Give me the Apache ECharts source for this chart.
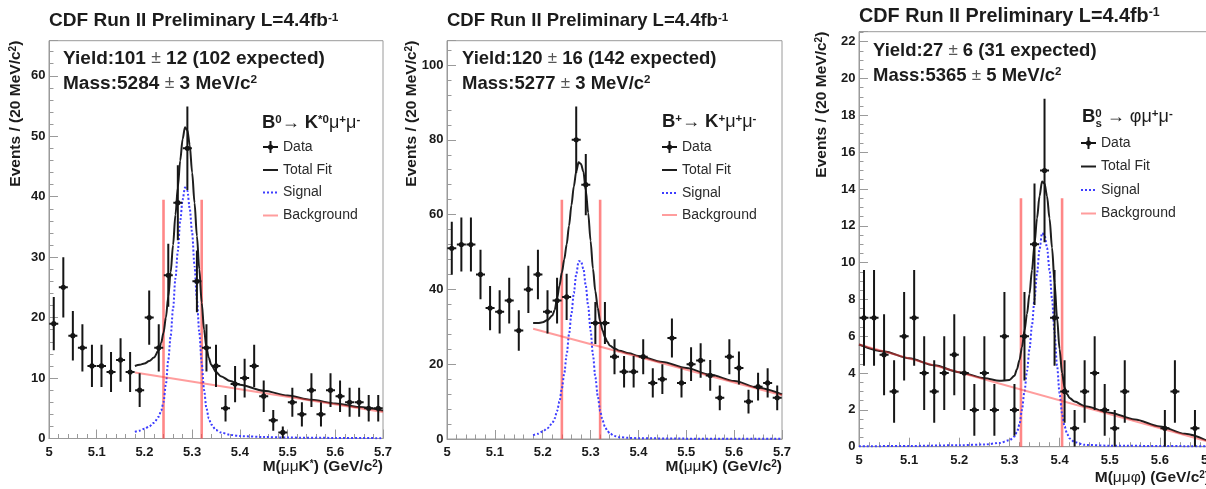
<!DOCTYPE html>
<html><head><meta charset="utf-8">
<script src="https://cdn.jsdelivr.net/npm/echarts@6/dist/echarts.min.js"></script>
<style>html,body{margin:0;padding:0;background:#fff}#c{width:1206px;height:489px}</style>
</head><body><div id="c"></div>
<script>
// ---------- DATA ----------
const binCenters = [5.01,5.03,5.05,5.07,5.09,5.11,5.13,5.15,5.17,5.19,5.21,5.23,5.25,5.27,5.29,5.31,5.33,5.35,5.37,5.39,5.41,5.43,5.45,5.47,5.49,5.51,5.53,5.55,5.57,5.59,5.61,5.63,5.65,5.67,5.69];
const xTicks = [5, 5.1, 5.2, 5.3, 5.4, 5.5, 5.6, 5.7];

// Panel 1: B0 -> K*0 mu mu
const p1Counts = [19,25,17,15,12,12,11,13,11,8,20,15,27,39,48,26,15,12,5,9,10,12,7,3,1,6,4,8,4,8,7,6,6,5,5];
const p1Errors = [4.4,5.0,4.1,3.9,3.5,3.5,3.3,3.6,3.3,2.8,4.5,3.9,5.2,6.2,6.9,5.1,3.9,3.5,2.2,3.0,3.2,3.5,2.6,1.7,1.0,2.4,2.0,2.8,2.0,2.8,2.6,2.4,2.4,2.2,2.2];
const p1Fit = [[5.18,12.0],[5.19,12.2],[5.20,12.4],[5.21,12.8],[5.22,13.4],[5.23,14.6],[5.235,15.8],[5.24,17.5],[5.245,20],[5.25,23.5],[5.255,27.5],[5.26,32],[5.265,37],[5.27,41.5],[5.275,46],[5.28,49.5],[5.285,51.5],[5.29,51],[5.295,48.5],[5.30,44],[5.305,39],[5.31,33.5],[5.315,28],[5.32,22.5],[5.325,18],[5.33,15],[5.335,13.3],[5.34,12.2],[5.35,11],[5.36,10.3],[5.38,9.5],[5.40,8.9],[5.45,7.9],[5.50,7.1],[5.55,6.4],[5.60,5.8],[5.65,5.2],[5.70,4.6]];
const p1Sig = [[5.18,1.1],[5.19,1.3],[5.20,1.6],[5.21,2.0],[5.22,2.6],[5.23,3.6],[5.235,4.6],[5.24,6],[5.245,9],[5.25,13],[5.255,17],[5.26,21.5],[5.265,26.5],[5.27,31],[5.275,36],[5.28,39.5],[5.285,41.5],[5.29,41],[5.295,38],[5.30,34],[5.305,28.5],[5.31,23],[5.315,17.5],[5.32,12.5],[5.325,8],[5.33,5],[5.335,3.3],[5.34,2.3],[5.35,1.4],[5.36,1.0],[5.38,0.6],[5.40,0.4],[5.45,0.25],[5.50,0.15],[5.60,0.1],[5.70,0.05]];
const p1Bkg = [[5.18,10.9],[5.70,4.4]];
const p1Window = [5.24, 5.32];
const p1WindowTop = 39.5;

// Panel 2: B+ -> K+ mu mu
const p2Counts = [51,52,52,44,35,34,37,29,40,44,34,37,38,80,68,31,31,22,18,18,22,15,16,27,15,20,21,17,11,22,19,10,14,15,11];
const p2Errors = [7.1,7.2,7.2,6.6,5.9,5.8,6.1,5.4,6.3,6.6,5.8,6.1,6.2,8.9,8.2,5.6,5.6,4.7,4.2,4.2,4.7,3.9,4.0,5.2,3.9,4.5,4.6,4.1,3.3,4.7,4.4,3.2,3.7,3.9,3.3];
const p2Fit = [[5.18,31.0],[5.19,31.0],[5.20,31.2],[5.21,31.8],[5.22,33],[5.225,34.5],[5.23,37.5],[5.235,41],[5.24,44.5],[5.245,48],[5.25,52],[5.255,57],[5.26,62.5],[5.265,67.5],[5.27,71.5],[5.275,74],[5.28,73.5],[5.285,71.5],[5.29,66.5],[5.295,60.5],[5.30,53],[5.305,45.5],[5.31,39.5],[5.315,35],[5.32,31.5],[5.325,29],[5.33,27.3],[5.335,26],[5.34,25],[5.35,24.2],[5.36,23.6],[5.38,22.9],[5.40,22.2],[5.45,20.6],[5.50,19.0],[5.55,17.2],[5.60,15.5],[5.65,13.7],[5.70,11.9]];
const p2Sig = [[5.18,1.0],[5.19,1.4],[5.20,2.0],[5.21,2.9],[5.22,4.2],[5.225,5.5],[5.23,7.5],[5.235,10],[5.24,13.5],[5.245,17.5],[5.25,22.5],[5.255,28],[5.26,33.5],[5.265,39],[5.27,44],[5.275,47.5],[5.28,47.5],[5.285,45.5],[5.29,41],[5.295,35.5],[5.30,29],[5.305,22.5],[5.31,16.5],[5.315,11.5],[5.32,7.5],[5.325,5],[5.33,3.3],[5.335,2.2],[5.34,1.5],[5.35,0.8],[5.36,0.5],[5.38,0.3],[5.40,0.2],[5.50,0.1],[5.70,0.05]];
const p2Bkg = [[5.18,29.5],[5.70,11.7]];
const p2Window = [5.24, 5.32];
const p2WindowTop = 64;

// Panel 3: Bs -> phi mu mu
const p3Counts = [7,7,5,3,6,7,4,3,4,5,4,2,4,2,6,2,6,11,15,7,3,1,3,4,2,1,3,0,0,0,1,3,0,1,0];
const p3Errors = [2.6,2.6,2.2,1.7,2.4,2.6,2.0,1.7,2.0,2.2,2.0,1.4,2.0,1.4,2.4,1.4,2.4,3.3,3.9,2.6,1.7,1.0,1.7,2.0,1.4,1.0,1.7,0,0,0,1.0,1.7,0,1.0,0];
const p3Fit = [[5.00,5.55],[5.05,5.17],[5.10,4.80],[5.15,4.42],[5.20,4.05],[5.25,3.72],[5.28,3.58],[5.30,3.62],[5.31,3.85],[5.315,4.2],[5.32,4.7],[5.325,5.4],[5.33,6.3],[5.335,7.2],[5.34,8.3],[5.345,9.6],[5.35,11.0],[5.355,12.4],[5.36,13.6],[5.365,14.4],[5.37,14.3],[5.375,13.6],[5.38,12.4],[5.385,10.8],[5.39,8.9],[5.395,7.0],[5.40,5.3],[5.405,4.0],[5.41,3.2],[5.415,2.85],[5.42,2.65],[5.43,2.45],[5.45,2.2],[5.50,1.85],[5.55,1.48],[5.60,1.1],[5.65,0.7],[5.70,0.25]];
const p3Sig = [[5.00,0.02],[5.10,0.04],[5.20,0.08],[5.25,0.12],[5.28,0.2],[5.30,0.35],[5.31,0.55],[5.315,0.8],[5.32,1.2],[5.325,2.0],[5.33,3.0],[5.335,4.1],[5.34,5.3],[5.345,6.6],[5.35,8.0],[5.355,9.4],[5.36,10.7],[5.365,11.6],[5.37,11.5],[5.375,10.8],[5.38,9.6],[5.385,8.0],[5.39,6.2],[5.395,4.4],[5.40,2.9],[5.405,1.8],[5.41,1.1],[5.415,0.7],[5.42,0.45],[5.43,0.25],[5.45,0.1],[5.50,0.05],[5.70,0.02]];
const p3Bkg = [[5.00,5.55],[5.70,0.25]];
const p3Window = [5.323, 5.405];
const p3WindowTop = 13.5;

// ---------- STYLE / LAYOUT ----------
const FONT = '"Liberation Sans", Arial, Helvetica, sans-serif';
const FRAME = '#9a9a9a';
const grids = [
  {left: 49, top: 40.7, width: 334, height: 397.8},
  {left: 447, top: 40.7, width: 335, height: 398.3},
  {left: 859, top: 31.7, width: 351, height: 415}
];
const yRanges = [{max: 65.8, interval: 10, minor: 5}, {max: 106.5, interval: 20, minor: 5}, {max: 22.54, interval: 2, minor: 4}];

const chart = echarts.init(document.getElementById('c'), null, {renderer: 'canvas'});

function xAxisCfg(i) {
  return {
    type: 'value', gridIndex: i, min: xTicks[0], max: xTicks[xTicks.length - 1], interval: 0.1,
    axisLine: {show: true, lineStyle: {color: FRAME, width: 1}},
    axisTick: {show: true, inside: true, length: 9, lineStyle: {color: FRAME}},
    minorTick: {show: true, splitNumber: 5, length: 4.5, lineStyle: {color: FRAME}},
    splitLine: {show: false},
    axisLabel: {color: '#1a1a1a', fontSize: 13, fontWeight: 'bold', fontFamily: FONT, margin: 7,
      formatter: v => String(+(+v).toFixed(2)), showMaxLabel: true, hideOverlap: false}
  };
}
function yAxisCfg(i) {
  const r = yRanges[i];
  return {
    type: 'value', gridIndex: i, min: 0, max: r.max, interval: r.interval,
    axisLine: {show: true, lineStyle: {color: FRAME, width: 1}},
    axisTick: {show: true, inside: true, length: 9, lineStyle: {color: FRAME}},
    minorTick: {show: true, splitNumber: r.minor, length: 4.5, lineStyle: {color: FRAME}},
    splitLine: {show: false},
    axisLabel: {color: '#1a1a1a', fontSize: 13, fontWeight: 'bold', fontFamily: FONT, margin: 3.5,
      showMaxLabel: false, formatter: v => String(+(+v).toFixed(2))}
  };
}

function pointsSeries(i, counts, errs) {
  const data = [];
  binCenters.forEach((x, k) => { if (counts[k] > 0) data.push([x, counts[k], errs[k]]); });
  return {
    type: 'custom', xAxisIndex: i, yAxisIndex: i, data, z: 6, clip: true,
    renderItem(params, api) {
      const x = api.value(0), y = api.value(1), e = api.value(2);
      const c = api.coord([x, y]);
      const lo = api.coord([x, Math.max(0, y - e)]);
      const hi = api.coord([x, y + e]);
      const st = {stroke: '#151515', lineWidth: 2};
      return {type: 'group', children: [
        {type: 'line', shape: {x1: c[0], y1: lo[1], x2: c[0], y2: hi[1]}, style: st},
        {type: 'line', shape: {x1: c[0] - 4.5, y1: c[1], x2: c[0] + 4.5, y2: c[1]}, style: st},
        {type: 'circle', shape: {cx: c[0], cy: c[1], r: 2.6}, style: {fill: '#151515'}}
      ]};
    }
  };
}
function lineSeries(i, data, style, z, smooth) {
  return {type: 'line', xAxisIndex: i, yAxisIndex: i, data, symbol: 'none', showSymbol: false,
    smooth: smooth ? 0.3 : false, smoothMonotone: 'x', lineStyle: style, z, silent: true, clip: true};
}
function windowSeries(i, xs, top) {
  return xs.map(x => lineSeries(i, [[x, 0], [x, top]], {color: 'rgba(255,70,70,0.65)', width: 2.6}, 2, false));
}

const series = [];
[[p1Counts, p1Errors, p1Fit, p1Sig, p1Bkg, p1Window, p1WindowTop],
 [p2Counts, p2Errors, p2Fit, p2Sig, p2Bkg, p2Window, p2WindowTop],
 [p3Counts, p3Errors, p3Fit, p3Sig, p3Bkg, p3Window, p3WindowTop]].forEach((p, i) => {
  series.push(...windowSeries(i, p[5], p[6]));
  series.push(lineSeries(i, p[3], {color: '#3d3dff', width: 2, type: [2, 2]}, 3, true));
  series.push(lineSeries(i, p[2], {color: '#1e1e1e', width: 2}, 4, true));
  series.push(lineSeries(i, p[4], {color: 'rgba(255,60,60,0.5)', width: 2}, 5, false));
  series.push(pointsSeries(i, p[0], p[1]));
});

// ---------- TEXT ----------
const INK = '#1c1c1c';
function richSet(s) {
  return {
    m: {fontSize: 18.5 * s, fontWeight: 'bold', fontFamily: FONT, fill: INK, color: INK},
    u: {fontSize: 11.5 * s, fontWeight: 'bold', fontFamily: FONT, fill: INK, color: INK, verticalAlign: 'top'},
    g: {fontSize: 18 * s, fontWeight: 'normal', fontFamily: FONT, fill: INK, color: INK},
    p: {fontSize: 17 * s, fontWeight: 'normal', fontFamily: FONT, fill: '#555', color: '#555'},
    xm: {fontSize: 15.5, fontWeight: 'bold', fontFamily: FONT, fill: INK, color: INK},
    xg: {fontSize: 15.5, fontWeight: 'normal', fontFamily: FONT, fill: INK, color: INK},
    xu: {fontSize: 10, fontWeight: 'bold', fontFamily: FONT, fill: INK, color: INK, verticalAlign: 'top'},
    l: {fontSize: 14, fontWeight: 'normal', fontFamily: FONT, fill: '#2a2a2a', color: '#2a2a2a'}
  };
}
function T(x, y, text, align, rot, s) {
  return {type: 'text', x, y, rotation: rot || 0, z: 100, silent: true,
    style: {text, rich: richSet(s || 1), align: align || 'left', textAlign: align || 'left',
      verticalAlign: 'middle', textVerticalAlign: 'middle', font: 'bold 18px ' + FONT, fill: INK}};
}
const graphics = [];
const panels = [
  {gx: 49, gr: 383, top: 40.7, title: 21, ts: 1.03, ys: 1.03, yl: 58.5, ml: 83.5, txtx: 63,
   yieldTxt: '{m|Yield:101 }{p|±}{m| 12 (102 expected)}', massTxt: '{m|Mass:5284 }{p|±}{m| 3 MeV/c}{u|2}',
   decay: '{m|B}{u|0}{g|→ }{m|K}{u|*0}{g|μ}{u|+}{g|μ}{u|-}', dx: 262, dy: 123,
   lx: 263, ly: [147, 170, 192.5, 215.5], xt: '{xm|M(}{xg|μμ}{xm|K}{xu|*}{xm|) (GeV/c}{xu|2}{xm|)}', xty: 467, ytx: 16},
  {gx: 447, gr: 782, top: 40.7, title: 21, ts: 1.0, ys: 1.0, yl: 58.5, ml: 83.5, txtx: 462,
   yieldTxt: '{m|Yield:120 }{p|±}{m| 16 (142 expected)}', massTxt: '{m|Mass:5277 }{p|±}{m| 3 MeV/c}{u|2}',
   decay: '{m|B}{u|+}{g|→ }{m|K}{u|+}{g|μ}{u|+}{g|μ}{u|-}', dx: 662, dy: 122,
   lx: 662, ly: [147, 170, 193, 215], xt: '{xm|M(}{xg|μμ}{xm|K) (GeV/c}{xu|2}{xm|)}', xty: 467, ytx: 412},
  {gx: 859, gr: 1210, top: 31.7, title: 16.5, ts: 1.07, ys: 1.0, yl: 50.5, ml: 75.5, txtx: 873,
   yieldTxt: '{m|Yield:27 }{p|±}{m| 6 (31 expected)}', massTxt: '{m|Mass:5365 }{p|±}{m| 5 MeV/c}{u|2}',
   decay: '{m|B}{u|0}{g| → φμ}{u|+}{g|μ}{u|-}', dx: 1082, dy: 117, sub: true,
   lx: 1081, ly: [143, 166.5, 190, 213.5], xt: '{xm|M(}{xg|μμφ}{xm|) (GeV/c}{xu|2}{xm|)}', xty: 478, ytx: 822}
];
panels.forEach(p => {
  graphics.push(T(p.gx, p.title, '{m|CDF Run II Preliminary L=4.4fb}{u|-1}', 'left', 0, p.ts));
  graphics.push(T(p.txtx, p.yl, p.yieldTxt, 'left', 0, p.ys));
  graphics.push(T(p.txtx, p.ml, p.massTxt, 'left', 0, p.ys));
  graphics.push(T(p.dx, p.dy, p.decay));
  if (p.sub) graphics.push(T(p.dx + 13.5, p.dy + 7, '{u|s}'));
  graphics.push(T(p.gr, p.xty, p.xt, 'right'));
  graphics.push(T(p.ytx, p.top, '{xm|Events / (20 MeV/c}{xu|2}{xm|)}', 'right', Math.PI / 2));
  // legend
  const lx = p.lx, tx = p.lx + 20, ly = p.ly;
  graphics.push({type: 'line', z: 100, shape: {x1: lx, y1: ly[0], x2: lx + 15, y2: ly[0]}, style: {stroke: '#151515', lineWidth: 2}});
  graphics.push({type: 'line', z: 100, shape: {x1: lx + 7.5, y1: ly[0] - 6, x2: lx + 7.5, y2: ly[0] + 6}, style: {stroke: '#151515', lineWidth: 2}});
  graphics.push({type: 'circle', z: 100, shape: {cx: lx + 7.5, cy: ly[0], r: 2.6}, style: {fill: '#151515'}});
  graphics.push({type: 'line', z: 100, shape: {x1: lx, y1: ly[1], x2: lx + 15, y2: ly[1]}, style: {stroke: '#1e1e1e', lineWidth: 2}});
  graphics.push({type: 'line', z: 100, shape: {x1: lx, y1: ly[2], x2: lx + 15, y2: ly[2]}, style: {stroke: '#3d3dff', lineWidth: 2, lineDash: [2, 2]}});
  graphics.push({type: 'line', z: 100, shape: {x1: lx, y1: ly[3], x2: lx + 15, y2: ly[3]}, style: {stroke: 'rgba(255,60,60,0.5)', lineWidth: 2}});
  ['Data', 'Total Fit', 'Signal', 'Background'].forEach((s, k) => graphics.push(T(tx, ly[k], '{l|' + s + '}')));
});

chart.setOption({
  animation: false,
  backgroundColor: '#ffffff',
  grid: grids.map(g => Object.assign({show: true, borderColor: FRAME, borderWidth: 1, backgroundColor: 'transparent',
    containLabel: false, outerBoundsMode: 'none'}, g)),
  xAxis: [0, 1, 2].map(xAxisCfg),
  yAxis: [0, 1, 2].map(yAxisCfg),
  series,
  graphic: graphics
});
</script>
</body></html>
